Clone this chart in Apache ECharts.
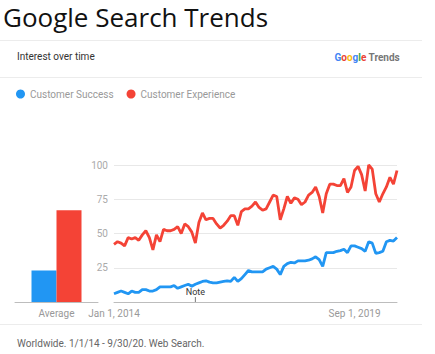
<!DOCTYPE html>
<html>
<head>
<meta charset="utf-8">
<script src="https://cdn.jsdelivr.net/npm/echarts@6/dist/echarts.min.js"></script>
<style>
html, body { margin: 0; padding: 0; background: #fff; }
#main { width: 435px; height: 354px; }
</style>
</head>
<body>
<div id="main"></div>
<script>
// monthly categories Jan 2014 .. Sep 2020
var monthNames = ['Jan','Feb','Mar','Apr','May','Jun','Jul','Aug','Sep','Oct','Nov','Dec'];
var months = [];
for (var y = 2014; y <= 2020; y++) {
    for (var m = 0; m < 12; m++) {
        if (y === 2020 && m > 8) break;
        months.push(monthNames[m] + ' 1, ' + y);
    }
}
var shownLabels = ['Jan 1, 2014', 'Sep 1, 2019'];
var noteMonth = 'Dec 1, 2015';

var success = [
    6, 7, 8, 7, 6, 8, 7, 7, 9, 9,
    8, 8, 9, 11, 11, 11, 11, 12, 10, 11,
    12, 13, 11.5, 13, 14, 15, 15.5, 14.5, 14, 14,
    14.5, 15, 15.5, 15, 18, 15, 17, 20, 23, 22,
    22, 22, 22, 24, 25, 26, 24, 20, 26, 28,
    29, 28.5, 30, 30, 30, 30.5, 31.5, 33, 31, 26,
    36, 36, 36, 37, 37.5, 38.5, 36, 41, 41, 40,
    39, 37, 44, 43, 35.5, 36, 37, 44, 45, 44.5,
    47
];
var experience = [
    42, 44, 43, 41, 47, 46, 47, 45, 49, 52,
    47, 38, 49, 44, 53, 52, 52, 53, 55, 50,
    57, 55, 51, 43, 58, 65, 60, 61, 61, 57,
    54, 56, 59, 63, 63, 56, 66, 68, 68, 70,
    73, 69, 67, 68, 73, 78, 77, 60, 68, 77,
    72, 76, 75, 71, 73, 78, 80, 84, 77, 65,
    79, 86, 86, 85, 85, 90, 80, 84, 96, 99,
    93, 81, 100, 97, 79, 73, 79, 84, 91, 86,
    96
];
var averageLabel = ['Average'];
var successAvg = [23];
var experienceAvg = [67];

var blue = '#2196f3';
var red = '#f44336';

var chart = echarts.init(document.getElementById('main'), null, { renderer: 'svg' });

var option = {
    animation: false,
    title: [
        {
            text: 'Google Search Trends',
            left: 3, top: 1, padding: 0,
            textStyle: { fontFamily: 'Open Sans', fontSize: 26, lineHeight: 32, fontWeight: 'normal', color: '#111' }
        },
        {
            text: 'Interest over time',
            left: 17, top: 51, padding: 0,
            textStyle: { fontFamily: 'Roboto', fontSize: 10, fontWeight: 'normal', color: '#333' }
        },
        {
            text: '{b|G}{r|o}{y|o}{b|g}{g|l}{r|e}{t| Trends}',
            right: 35, top: 52, padding: 0,
            textStyle: {
                fontFamily: 'Roboto', fontSize: 10,
                rich: {
                    b: { color: '#4285f4', fontSize: 10, fontFamily: 'Roboto' },
                    r: { color: '#ea4335', fontSize: 10, fontFamily: 'Roboto' },
                    y: { color: '#fbbc05', fontSize: 10, fontFamily: 'Roboto' },
                    g: { color: '#34a853', fontSize: 10, fontFamily: 'Roboto' },
                    t: { color: '#777', fontSize: 10, fontFamily: 'Roboto' }
                }
            }
        },
        {
            text: 'Worldwide. 1/1/14 - 9/30/20. Web Search.',
            left: 17, top: 338, padding: 0,
            textStyle: { fontFamily: 'Roboto', fontSize: 10, fontWeight: 'normal', color: '#666' }
        }
    ],
    graphic: [
        { type: 'line', shape: { x1: 0, y1: 40.5, x2: 422, y2: 40.5 }, style: { stroke: '#ececec', lineWidth: 1 } },
        { type: 'line', shape: { x1: 0, y1: 77.5, x2: 422, y2: 77.5 }, style: { stroke: '#ececec', lineWidth: 1 } },
        { type: 'line', shape: { x1: 0, y1: 324.5, x2: 422, y2: 324.5 }, style: { stroke: '#ececec', lineWidth: 1 } }
    ],
    legend: {
        data: ['Customer Success', 'Customer Experience'],
        left: 11, top: 84,
        icon: 'circle',
        itemWidth: 9, itemHeight: 9, itemGap: 13,
        textStyle: { fontFamily: 'Roboto', fontSize: 10, color: '#999' }
    },
    grid: [
        { left: 15, width: 83, top: 165, bottom: 52 },
        { left: 114, right: 38, top: 165, bottom: 52 }
    ],
    xAxis: [
        {
            gridIndex: 0, type: 'category', data: averageLabel,
            axisLine: { lineStyle: { color: '#bdbdbd' } },
            axisTick: { show: false },
            axisLabel: { color: '#999', fontSize: 10, fontFamily: 'Roboto', margin: 6 }
        },
        {
            gridIndex: 1, type: 'category', boundaryGap: false, data: months,
            axisLine: { lineStyle: { color: '#bdbdbd' } },
            axisTick: { show: false },
            axisLabel: {
                color: '#999', fontSize: 10, fontFamily: 'Roboto', margin: 6,
                interval: function (i, v) { return shownLabels.indexOf(v) >= 0; }
            }
        }
    ],
    yAxis: [
        { gridIndex: 0, type: 'value', min: 0, max: 100, show: false },
        {
            gridIndex: 1, type: 'value', min: 0, max: 100, interval: 25,
            axisLine: { show: false },
            axisTick: { show: false },
            axisLabel: {
                color: '#aaa', fontSize: 10, fontFamily: 'Roboto', margin: 6,
                formatter: function (v) { return v === 0 ? '' : v; }
            },
            splitLine: { lineStyle: { color: '#e8e8e8' } }
        }
    ],
    series: [
        {
            name: 'Customer Success', type: 'bar', xAxisIndex: 0, yAxisIndex: 0,
            data: successAvg, barWidth: 25, barGap: '0%',
            itemStyle: { color: blue }
        },
        {
            name: 'Customer Experience', type: 'bar', xAxisIndex: 0, yAxisIndex: 0,
            data: experienceAvg, barWidth: 25, barGap: '0%',
            itemStyle: { color: red }
        },
        {
            name: 'Customer Success', type: 'line', xAxisIndex: 1, yAxisIndex: 1,
            data: success, showSymbol: false, z: 3,
            lineStyle: { width: 2.8, color: blue },
            itemStyle: { color: blue },
            markPoint: {
                symbol: 'rect', symbolSize: [1, 5], symbolOffset: [0, -2.5],
                itemStyle: { color: '#777' },
                label: { show: true, position: 'top', distance: 1, formatter: 'Note', color: '#333', fontSize: 9, fontFamily: 'Roboto' },
                data: [{ coord: [noteMonth, 0] }]
            }
        },
        {
            name: 'Customer Experience', type: 'line', xAxisIndex: 1, yAxisIndex: 1,
            data: experience, showSymbol: false, z: 3,
            lineStyle: { width: 2.8, color: red },
            itemStyle: { color: red }
        }
    ]
};

chart.setOption(option);
</script>
</body>
</html>
